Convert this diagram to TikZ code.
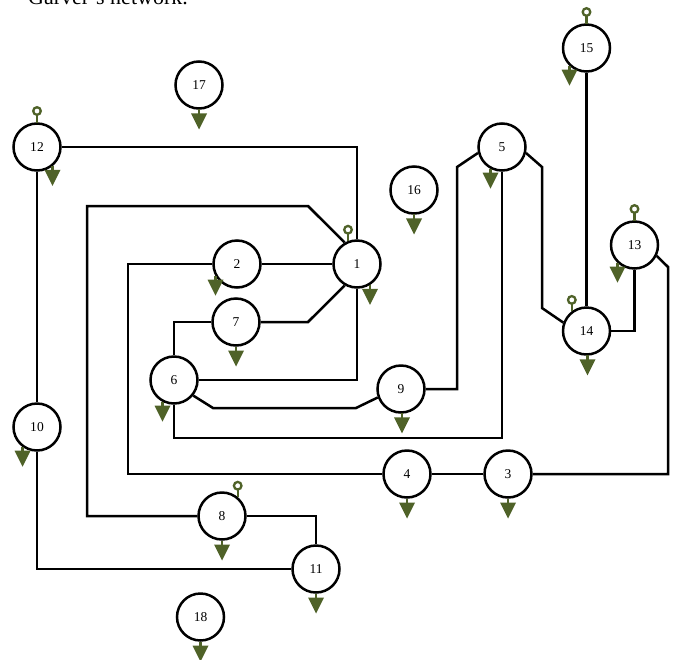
\documentclass[tikz,border=0pt]{standalone}
\usepackage{fontspec}
\setmainfont{Liberation Serif}
\usetikzlibrary{calc}
\definecolor{olv}{RGB}{79,98,40}
\begin{document}
\begin{tikzpicture}[x=1pt,y=-1pt,
  bus/.style={circle,draw=black,line width=2.5pt,fill=white,minimum size=47pt,inner sep=0pt,font=\fontsize{13.5}{14}\selectfont},
  line/.style={draw=black,line width=2.5pt},
  olvline/.style={draw=olv,line width=2.3pt}]
\useasboundingbox (0,0) rectangle (680,659);
\node[anchor=base west,font=\fontsize{22}{24}\selectfont,inner sep=0pt] (title) at (28,4.5) {Garver's network.};
% buses
\node[bus] (n12) at (37,147) {12};
\node[bus] (n17) at (199,85) {17};
\node[bus] (n15) at (586.5,48) {15};
\node[bus] (n5) at (502,147) {5};
\node[bus] (n16) at (414,190) {16};
\node[bus] (n13) at (634.5,245) {13};
\node[bus] (n1) at (357,264) {1};
\node[bus] (n2) at (237,264) {2};
\node[bus] (n7) at (236,322) {7};
\node[bus] (n14) at (586.5,331) {14};
\node[bus] (n6) at (174,380) {6};
\node[bus] (n9) at (401,389) {9};
\node[bus] (n10) at (37,427) {10};
\node[bus] (n4) at (407,474) {4};
\node[bus] (n3) at (508,474) {3};
\node[bus] (n8) at (222,516) {8};
\node[bus] (n11) at (316,569) {11};
\node[bus] (n18) at (200.5,617) {18};
% lines
\begin{scope}[line join=miter]
\draw[line] (n12.east) -| (n1.north);
\draw[line] (n2.east) -- (n1.west);
\draw[line] (n1.120) -- (308,206) -- (87,206) |- (n8.west);
\draw[line] (n1.240) -- (308,322) -- (n7.east);
\draw[line] (n1.south) |- (n6.east);
\draw[line] (n7.west) -| (n6.north);
\draw[line] (n6.-39) -- (213,408) -- (356,408) -- (n9.200);
\draw[line] (n6.south) |- (502,438) -- (n5.south);
\draw[line] (n9.east) -| (457,167) -- (n5.194);
\draw[line] (n5.-14) -- (542,167) -- (542,308) -- (n14.160);
\draw[line] (n15.south) -- (n14.north);
\draw[line] (n13.south) |- (n14.east);
\draw[line] (n13.-26) -- (668,267) |- (n3.east);
\draw[line] (n2.west) -- (128,264) |- (n4.west);
\draw[line] (n4.east) -- (n3.west);
\draw[line] (n12.south) -- (n10.north);
\draw[line] (n10.south) |- (n11.west);
\draw[line] (n8.east) -| (n11.north);
\end{scope}
% loads
\foreach \n/\d in {n12/15.5, n17/0, n15/-17, n5/-11.5, n16/0, n13/-17, n1/13, n2/-21.5, n7/0, n14/1, n6/-11.5, n9/1, n10/-14.5, n4/0, n3/0, n8/0, n11/0, n18/0}{
  \pgfmathsetmacro\h{sqrt(600-(\d)*(\d))}
  \draw[olvline] ($(\n.center)+(\d,\h)$) -- ++(0,6);
  \fill[olv] ($(\n.center)+(\d-8,\h+4)$) -- ++(16,0) -- ++(-8,16) -- cycle;
}
% generators
\foreach \n/\d in {n12/0, n1/-9, n15/0, n13/0, n14/-14.7, n8/15.7}{
  \pgfmathsetmacro\h{sqrt(600-(\d)*(\d))}
  \draw[olvline] ($(\n.center)+(\d,-\h)$) -- ++(0,-7.5);
  \draw[olvline,fill=white] ($(\n.center)+(\d,-\h-11.5)$) circle (3.8pt);
}
\end{tikzpicture}
\end{document}
